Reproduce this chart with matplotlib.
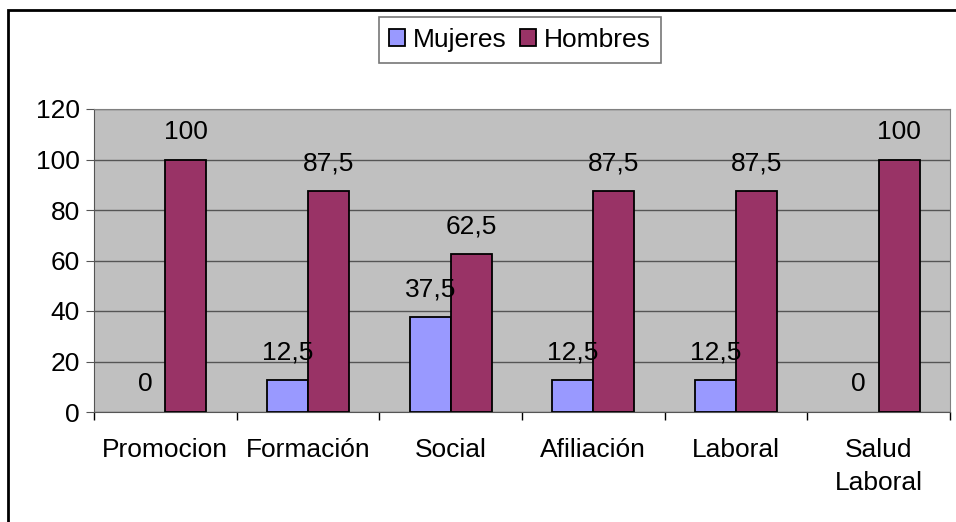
import matplotlib.pyplot as plt
import numpy as np
from matplotlib.patches import Rectangle

categorias = ['Promocion', 'Formación', 'Social', 'Afiliación', 'Laboral', 'Salud\nLaboral']
mujeres = [0, 12.5, 37.5, 12.5, 12.5, 0]
hombres = [100, 87.5, 62.5, 87.5, 87.5, 100]

plt.rcParams['font.family'] = ['Liberation Sans', 'DejaVu Sans']
plt.rcParams['font.size'] = 19

W, H = 956, 522
fig = plt.figure(figsize=(W / 100, H / 100), dpi=100)
ax = fig.add_axes([94 / W, 1 - 412 / H, (950 - 94) / W, (412 - 109) / H])

# outer chart border (only left/top visible)
fig.patches.append(Rectangle((8 / W, -0.1), 1.2, 1 - 10 / H + 0.1, transform=fig.transFigure,
                             fill=False, edgecolor='black', linewidth=2))

x = np.arange(len(categorias))
w = 0.287
b1 = ax.bar(x - w / 2, mujeres, w, color='#9999FF', edgecolor='black', linewidth=1.3, label='Mujeres', zorder=3)
b2 = ax.bar(x + w / 2, hombres, w, color='#993366', edgecolor='black', linewidth=1.3, label='Hombres', zorder=3)

def fmt(v):
    return ('%g' % v).replace('.', ',')

for bars, vals in [(b1, mujeres), (b2, hombres)]:
    for r, v in zip(bars, vals):
        ax.annotate(fmt(v), (r.get_x() + r.get_width() / 2, v), xytext=(0, 20),
                    textcoords='offset points', ha='center', va='center', zorder=4)

ax.set_facecolor('#C0C0C0')
ax.set_xlim(-0.5, len(categorias) - 0.5)
ax.set_ylim(0, 120)
ax.set_yticks(range(0, 121, 20))
ax.yaxis.grid(True, color='#555555', linewidth=1.0, zorder=1)
ax.set_xticks(x)
ax.set_xticklabels(categorias, va='top', linespacing=1.45)
ax.set_xticks(np.arange(-0.5, len(categorias)), minor=True)
ax.tick_params(axis='x', which='major', length=0, pad=19)
ax.tick_params(axis='x', which='minor', length=6, color='black', width=1)
ax.tick_params(axis='y', length=6, color='#555555', pad=4)
for s in ['top', 'right']:
    ax.spines[s].set_color('#808080')
ax.spines['left'].set_color('#555555')
ax.spines['bottom'].set_color('#555555')

leg = fig.legend(loc='center', bbox_to_anchor=(520 / W, 1 - 40 / H), ncol=2, frameon=True,
                 fancybox=False, edgecolor='#555555', handlelength=0.6, handleheight=0.6,
                 handletextpad=0.3, columnspacing=0.5, borderpad=0.4)
leg.get_frame().set_linewidth(1.2)

# zero-height bars are not drawn in the original
for bars, vals in [(b1, mujeres), (b2, hombres)]:
    for r, v in zip(bars, vals):
        if v == 0:
            r.set_visible(False)

fig.savefig('out.png', dpi=100)
